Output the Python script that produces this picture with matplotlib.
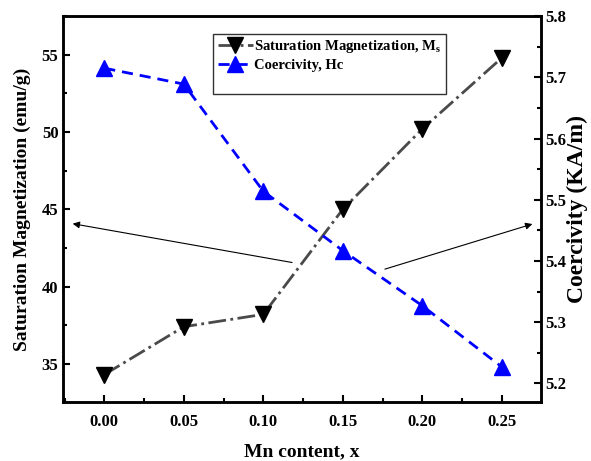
import numpy as np
import matplotlib
matplotlib.use('Agg')
import matplotlib.pyplot as plt
from matplotlib.lines import Line2D
from matplotlib.ticker import MultipleLocator

# data
mn_content = [0.00, 0.05, 0.10, 0.15, 0.20, 0.25]
ms_values = [34.3, 37.4, 38.2, 45.0, 50.2, 54.8]
hc_values = [5.715, 5.689, 5.514, 5.417, 5.327, 5.227]

x_ticks = [0.00, 0.05, 0.10, 0.15, 0.20, 0.25]
ms_ticks = [35, 40, 45, 50, 55]
hc_ticks = [5.2, 5.3, 5.4, 5.5, 5.6, 5.7, 5.8]

plt.rcParams['font.family'] = ['Liberation Serif', 'DejaVu Serif']
plt.rcParams['font.weight'] = 'bold'
plt.rcParams['mathtext.fontset'] = 'custom'
plt.rcParams['mathtext.rm'] = 'Liberation Serif:bold'
plt.rcParams['mathtext.it'] = 'Liberation Serif:bold'
plt.rcParams['mathtext.bf'] = 'Liberation Serif:bold'

fig = plt.figure(figsize=(5.91, 4.61), dpi=100)
ax = fig.add_axes([0.107, 0.127, 0.808, 0.838])
ax2 = ax.twinx()

l1, = ax.plot(mn_content, ms_values, color='#4a4a4a', linestyle='-.', linewidth=2,
              marker='v', markersize=12, markerfacecolor='black', markeredgecolor='black',
              label='Saturation Magnetization, M$_\\mathrm{s}$')
l2, = ax2.plot(mn_content, hc_values, color='blue', linestyle='--', linewidth=2,
               dashes=(4, 2.5),
               marker='^', markersize=12, markerfacecolor='blue', markeredgecolor='blue',
               label='Coercivity, Hc')

ax.set_xlim(-0.0258, 0.2745)
ax.set_ylim(32.5, 57.5)
ax2.set_ylim(5.169, 5.8)

ax.set_xticks(x_ticks)
ax.set_xticklabels(['%.2f' % v for v in x_ticks])
ax.set_yticks(ms_ticks)
ax2.set_yticks(hc_ticks)
ax.xaxis.set_minor_locator(MultipleLocator(0.025))
ax.yaxis.set_minor_locator(MultipleLocator(2.5))
ax2.yaxis.set_minor_locator(MultipleLocator(0.05))

for a in (ax, ax2):
    a.tick_params(which='major', direction='in', length=5, width=1.5, labelsize=12)
    a.tick_params(which='minor', direction='in', length=3, width=1.5)
    for s in a.spines.values():
        s.set_linewidth(1.8)
ax.tick_params(axis='x', pad=8)
ax.tick_params(top=False, which='both')

ax.set_xlabel('Mn content, x', fontsize=14, fontweight='bold', labelpad=10)
ax.set_ylabel('Saturation Magnetization (emu/g)', fontsize=14, fontweight='bold', labelpad=8)
ax2.set_ylabel('Coercivity (KA/m)', fontsize=17, fontweight='bold', labelpad=0)

# arrows pointing at each axis
ax.annotate('', xy=(0.014, 0.464), xytext=(0.485, 0.361), xycoords='axes fraction',
            arrowprops=dict(arrowstyle='-|>', color='black', lw=0.8, mutation_scale=10))
ax.annotate('', xy=(0.988, 0.464), xytext=(0.668, 0.343), xycoords='axes fraction',
            arrowprops=dict(arrowstyle='-|>', color='black', lw=0.8, mutation_scale=10))

blank = Line2D([], [], linestyle='none', marker='none')
leg = ax.legend([l1, l2, blank], [l1.get_label(), l2.get_label(), ' '],
                loc='upper left', bbox_to_anchor=(0.314, 0.955), fontsize=10.5,
                frameon=True, fancybox=False, edgecolor='#333333', framealpha=1,
                handlelength=2.4, handletextpad=0.1, borderpad=0.3, labelspacing=0.3,
                borderaxespad=0)
leg.get_frame().set_linewidth(1.0)

plt.savefig('out.png', dpi=100)
